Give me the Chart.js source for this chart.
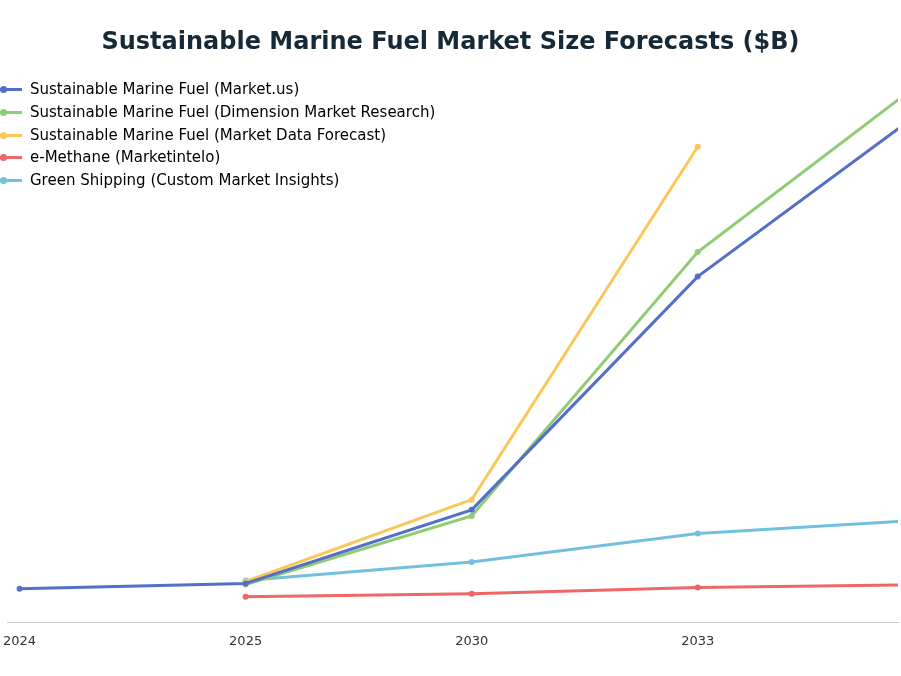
<!DOCTYPE html>
<html><head><meta charset="utf-8">
<script src="https://cdn.jsdelivr.net/npm/chart.js@4/dist/chart.umd.min.js"></script>
<style>html,body{margin:0;padding:0;background:#fff}#w{position:relative;width:901px;height:676px}
#lg{position:absolute;left:0;top:78px;font:15px 'DejaVu Sans',sans-serif;color:#000}
#lg div{position:relative;height:22.8px;line-height:22.8px;padding-left:30px;white-space:nowrap}
#lg i{position:absolute;left:-4px;top:10px;width:26px;height:3px}
#lg b{position:absolute;left:0;top:8px;width:7px;height:7px;border-radius:50%}
</style>
</head><body><div id="w"><canvas id="c"></canvas><div id="lg"></div></div>
<script>
const years = ['2024','2025','2030','2033','2035'];
const marketUs = [1.65, 1.9, 5.5, 16.9, 25.05];
const dimension = [null, 1.85, 5.2, 18.1, 26.5];
const marketData = [null, 2.0, 6.0, 23.25, null];
const eMethane = [null, 1.25, 1.4, 1.7, 1.85];
const greenShipping = [null, 2.05, 2.95, 4.35, 5.0];
const names = ['Sustainable Marine Fuel (Market.us)','Sustainable Marine Fuel (Dimension Market Research)','Sustainable Marine Fuel (Market Data Forecast)','e-Methane (Marketintelo)','Green Shipping (Custom Market Insights)'];
const colors = ['#5470c6','#91cc75','#fac858','#ee6666','#73c0de'];
const series = [marketUs, dimension, marketData, eMethane, greenShipping];
const pts = a => a.map((v,i)=>v===null?null:{x:i,y:v}).filter(p=>p);
document.getElementById('lg').innerHTML = names.map((n,i)=>`<div><i style="background:${colors[i]}"></i><b style="background:${colors[i]}"></b>${n}</div>`).join('');
new Chart(document.getElementById('c'), {
  type:'line',
  data:{datasets: series.map((s,i)=>({label:names[i],data:pts(s),borderColor:colors[i],backgroundColor:colors[i],borderWidth:3,pointRadius:3,pointBorderWidth:0,pointHoverRadius:3,tension:0}))},
  options:{responsive:true,maintainAspectRatio:false,animation:false,
    layout:{padding:{left:0,right:0,top:0,bottom:24}},
    plugins:{
      title:{display:true,text:'Sustainable Marine Fuel Market Size Forecasts ($B)',color:'#152a36',font:{size:24,weight:'bold',family:'DejaVu Sans'},padding:{top:28,bottom:6}},
      legend:{display:false},
      tooltip:{enabled:false}
    },
    scales:{
      x:{type:'linear',min:-0.053,max:3.886,grid:{display:false},border:{color:'#ccc'},
        afterBuildTicks:ax=>{ax.ticks=[0,1,2,3].map(v=>({value:v}));},
        ticks:{color:'#333',font:{size:13,family:'DejaVu Sans'},callback:v=>years[v]}},
      y:{display:false,min:0,max:27.35}
    }
  }
});
</script></body></html>
